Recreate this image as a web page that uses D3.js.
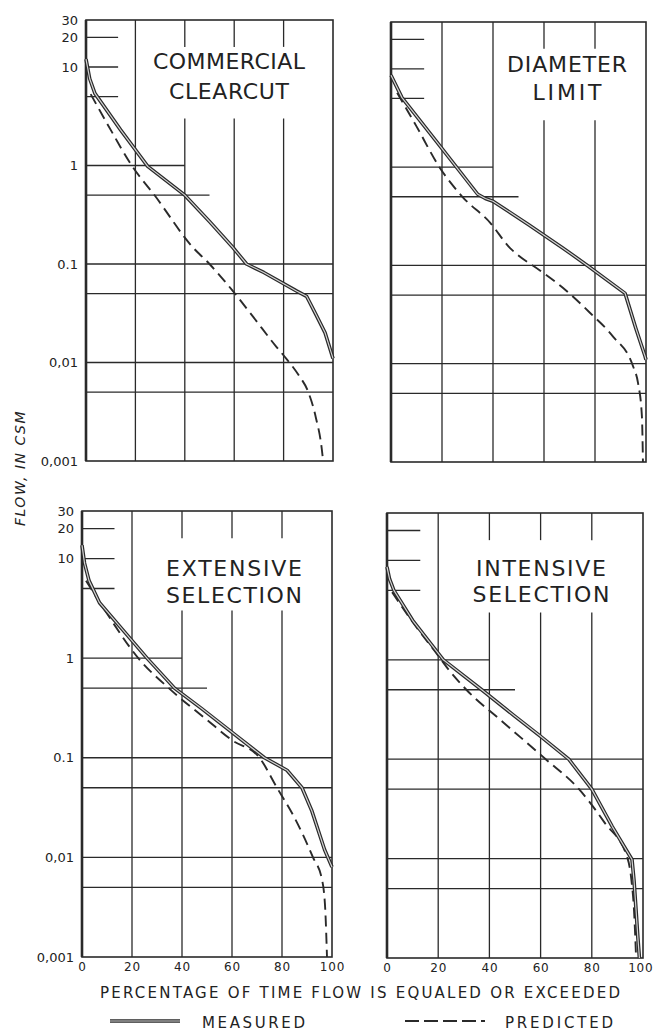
<!DOCTYPE html>
<html>
<head>
<meta charset="utf-8">
<script src="https://cdn.jsdelivr.net/npm/d3@7"></script>
<style>
  body { margin: 0; background: #fff; }
  text { font-family: "DejaVu Sans", sans-serif; fill: #222; }
</style>
</head>
<body>
<div id="chart"></div>
<script>
// flow duration curves, measured vs predicted, four cutting treatments

var pctTicks = [0, 20, 40, 60, 80, 100];
var flowTicks = [30, 20, 10, 1, 0.1, 0.01, 0.001];
var flowTickLabels = ["30", "20", "10", "1", "0.1", "0,01", "0,001"];
var pctGrid = [20, 40, 60, 80];
var flowGrid = [20, 10, 5, 1, 0.5, 0.1, 0.05, 0.01, 0.005];
var flowGridReach = [13, 13, 13, 40, 50, 100, 100, 100, 100];

var clearcutMeasured = [[0, 12], [1.5, 7.6], [3.6, 5.4], [14, 2.3], [25, 0.98], [40, 0.5], [50, 0.27],
  [59.5, 0.147], [65, 0.1], [72, 0.082], [85.4, 0.053], [89.3, 0.047], [93, 0.031], [96.8, 0.02], [100, 0.011]];
var clearcutPredicted = [[1.9, 5.3], [10, 2.3], [18.5, 1.0], [28, 0.49], [43, 0.15], [50, 0.1], [59.5, 0.053],
  [67.7, 0.029], [77, 0.0145], [81.4, 0.0107], [86, 0.0075], [90, 0.005], [93, 0.0028], [95.5, 0.0013], [96, 0.001]];

var diameterMeasured = [[0, 8.6], [4.3, 5.1], [18.4, 1.75], [34, 0.53], [37, 0.48], [40, 0.45], [54, 0.26],
  [67.5, 0.15], [77, 0.1], [91.8, 0.052], [96, 0.023], [99.6, 0.012], [100, 0.011]];
var diameterPredicted = [[2.4, 5.7], [10, 2.6], [19, 1.0], [28, 0.5], [39, 0.27], [46.7, 0.15], [49.4, 0.13],
  [58.4, 0.089], [67.5, 0.059], [78, 0.033], [87, 0.019], [95, 0.0093], [96.9, 0.0063], [98.4, 0.0029], [98.8, 0.001]];

var extensiveMeasured = [[0, 13.6], [1, 9], [2.8, 6], [7, 3.6], [20, 1.5], [26, 1.0], [37, 0.5], [48, 0.31],
  [60, 0.18], [73, 0.1], [82, 0.075], [88, 0.05], [92, 0.029], [97, 0.012], [100, 0.008]];
var extensivePredicted = [[1.6, 6], [10, 2.8], [22.5, 1.0], [35.5, 0.48], [50, 0.24], [60, 0.15], [71, 0.1],
  [78, 0.05], [85, 0.025], [92.4, 0.01], [96, 0.006], [97.3, 0.003], [98, 0.001]];

var intensiveMeasured = [[0, 8.6], [1, 6.5], [2.7, 5], [10, 2.5], [22, 1.0], [37, 0.5], [50, 0.27], [60, 0.17],
  [71, 0.1], [80, 0.05], [88, 0.021], [95.7, 0.0098], [96.5, 0.006], [97.3, 0.003], [98, 0.0016], [98.6, 0.001]];
var intensivePredicted = [[2, 4.8], [10, 2.4], [20, 1.1], [24, 0.8], [31, 0.5], [45, 0.24], [62, 0.1],
  [75, 0.05], [85, 0.023], [94, 0.01], [95.5, 0.006], [96.5, 0.003], [97.3, 0.001]];

var panels = [
  { title: ["COMMERCIAL", "CLEARCUT"], measured: clearcutMeasured, predicted: clearcutPredicted,
    box: [86, 20, 333, 461], titleX: 229, titleY: [69, 99], titleW: [152, 120], gapFrom: 40, left: true, bottom: false },
  { title: ["DIAMETER", "LIMIT"], measured: diameterMeasured, predicted: diameterPredicted,
    box: [391, 22, 646, 462], titleX: 567, titleY: [72, 100], titleW: [120, 69], gapFrom: 60, left: false, bottom: false },
  { title: ["EXTENSIVE", "SELECTION"], measured: extensiveMeasured, predicted: extensivePredicted,
    box: [82, 511, 332, 957], titleX: 234, titleY: [576, 603], titleW: [136, 136], gapFrom: 40, left: true, bottom: true },
  { title: ["INTENSIVE", "SELECTION"], measured: intensiveMeasured, predicted: intensivePredicted,
    box: [387, 513, 643, 958], titleX: 541, titleY: [576, 602], titleW: [130, 137], gapFrom: 40, left: false, bottom: true }
];

var ink = "#2a2a2a";

var svg = d3.select('#chart').append('svg')
  .attr('width', 654)
  .attr('height', 1032);

panels.forEach(function(p) {
  var b = p.box;
  var x = d3.scaleLinear().domain([0, 100]).range([b[0], b[2]]);
  var y = d3.scaleLog().domain([0.001, 30]).range([b[3], b[1]]);
  var g = svg.append('g');

  // horizontal grid, short near the top
  g.selectAll('line.h')
    .data(flowGrid)
    .enter()
    .append('line')
      .attr('x1', x(0))
      .attr('x2', function(d, i) { return x(flowGridReach[i]); })
      .attr('y1', function(d) { return y(d); })
      .attr('y2', function(d) { return y(d); })
      .attr('stroke', ink)
      .attr('stroke-width', 1.3);

  // vertical grid, broken where the title sits
  pctGrid.forEach(function(v) {
    var spans = v >= p.gapFrom ? [[30, 16], [3, 0.001]] : [[30, 0.001]];
    spans.forEach(function(s) {
      g.append('line')
        .attr('x1', x(v)).attr('x2', x(v))
        .attr('y1', y(s[0])).attr('y2', y(s[1]))
        .attr('stroke', ink)
        .attr('stroke-width', 1.3);
    });
  });

  g.append('rect')
    .attr('x', x(0)).attr('y', y(30))
    .attr('width', x(100) - x(0)).attr('height', y(0.001) - y(30))
    .attr('fill', 'none')
    .attr('stroke', ink)
    .attr('stroke-width', 1.6);
  g.append('line')
    .attr('x1', x(0)).attr('x2', x(0))
    .attr('y1', y(30)).attr('y2', y(0.001))
    .attr('stroke', ink)
    .attr('stroke-width', 2.6);

  p.title.forEach(function(t, i) {
    g.append('text')
      .attr('x', p.titleX)
      .attr('y', p.titleY[i])
      .attr('text-anchor', 'middle')
      .attr('font-size', 22)
      .attr('textLength', p.titleW[i])
      .attr('lengthAdjust', 'spacing')
      .text(t);
  });

  var line = d3.line()
    .x(function(d) { return x(d[0]); })
    .y(function(d) { return y(d[1]); });

  g.append('path')
    .attr('d', line.curve(d3.curveMonotoneX)(p.predicted))
    .attr('fill', 'none')
    .attr('stroke', ink)
    .attr('stroke-width', 1.9)
    .attr('stroke-dasharray', '11,6');

  line.curve(d3.curveLinear);
  g.append('path')
    .attr('d', line(p.measured))
    .attr('fill', 'none')
    .attr('stroke', ink)
    .attr('stroke-width', 3.6)
    .attr('stroke-linejoin', 'round');
  g.append('path')
    .attr('d', line(p.measured))
    .attr('fill', 'none')
    .attr('stroke', '#d4d4d4')
    .attr('stroke-width', 1.2)
    .attr('stroke-linejoin', 'round');

  if (p.left) {
    var ya = g.append('g')
      .attr('transform', 'translate(' + x(0) + ',0)')
      .call(d3.axisLeft(y)
        .tickValues(flowTicks)
        .tickFormat(function(d, i) { return flowTickLabels[i]; })
        .tickSize(0)
        .tickPadding(8));
    ya.select('.domain').remove();
    ya.selectAll('text').attr('font-size', 13).attr('font-family', '"DejaVu Sans", sans-serif').attr('fill', '#222');
  }
  if (p.bottom) {
    var xa = g.append('g')
      .attr('transform', 'translate(0,' + y(0.001) + ')')
      .call(d3.axisBottom(x)
        .tickValues(pctTicks)
        .tickSize(0)
        .tickPadding(5));
    xa.select('.domain').remove();
    xa.selectAll('text').attr('font-size', 12).attr('letter-spacing', 0.8).attr('font-family', '"DejaVu Sans", sans-serif').attr('fill', '#222');
    // keep the last label inside the page
    if (b[2] > 640) {
      xa.selectAll('text').filter(function(d) { return d === 100; })
        .attr('text-anchor', 'end')
        .attr('dx', 10);
    }
  }
});

svg.append('text')
  .attr('transform', 'translate(25,468) rotate(-90)')
  .attr('text-anchor', 'middle')
  .attr('font-size', 14)
  .attr('font-style', 'italic')
  .attr('letter-spacing', 1.5)
  .text('FLOW, IN CSM');

svg.append('text')
  .attr('x', 100)
  .attr('y', 998)
  .attr('font-size', 15)
  .attr('textLength', 520)
  .attr('lengthAdjust', 'spacing')
  .text('PERCENTAGE OF TIME FLOW IS EQUALED OR EXCEEDED');

// legend
svg.append('line')
  .attr('x1', 110).attr('x2', 180).attr('y1', 1021).attr('y2', 1021)
  .attr('stroke', ink).attr('stroke-width', 3.6);
svg.append('line')
  .attr('x1', 110).attr('x2', 180).attr('y1', 1021).attr('y2', 1021)
  .attr('stroke', '#d4d4d4').attr('stroke-width', 1.2);
svg.append('text')
  .attr('x', 202).attr('y', 1028)
  .attr('font-size', 15)
  .attr('textLength', 103)
  .attr('lengthAdjust', 'spacing')
  .text('MEASURED');

svg.append('line')
  .attr('x1', 405).attr('x2', 485).attr('y1', 1021).attr('y2', 1021)
  .attr('stroke', ink).attr('stroke-width', 1.9)
  .attr('stroke-dasharray', '14,5');
svg.append('text')
  .attr('x', 505).attr('y', 1028)
  .attr('font-size', 15)
  .attr('textLength', 108)
  .attr('lengthAdjust', 'spacing')
  .text('PREDICTED');
</script>
</body>
</html>
